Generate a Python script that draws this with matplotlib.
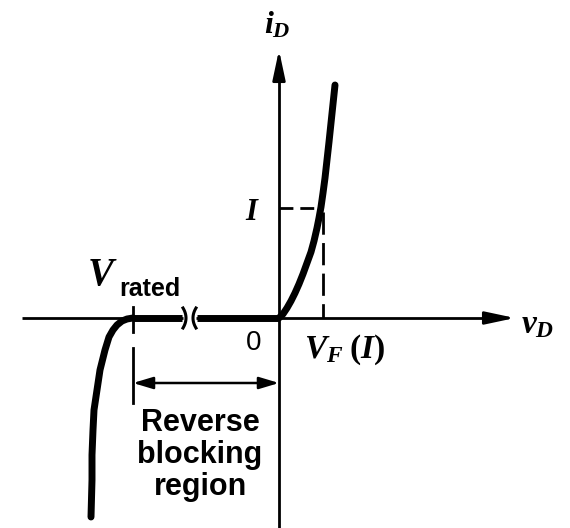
import matplotlib
import matplotlib.pyplot as plt
import numpy as np

matplotlib.use("Agg")

plt.rcParams["mathtext.fontset"] = "custom"
plt.rcParams["mathtext.it"] = "Liberation Serif:italic:bold"
plt.rcParams["mathtext.rm"] = "Liberation Serif:bold"
plt.rcParams["mathtext.bf"] = "Liberation Serif:bold"

# Diode i-v characteristic (sketch units, origin at v=0, i=0)
fwd_v = [0, 4, 8, 12, 16, 20, 24, 28, 32, 35, 38, 40, 42, 44, 46, 48, 50,
         52, 54, 56]
fwd_i = [0, 4, 10, 17, 25, 34, 44, 55, 66, 77, 90, 100, 111, 125, 140, 158,
         176, 195, 214, 233]

rev_v = [-146, -152, -157, -162, -166, -170, -174, -179, -182, -185, -186,
         -187, -187, -188]
rev_i = [0, -1, -3, -7, -12, -19, -32, -52, -72, -92, -112, -137, -162,
         -199]

V_RATED = -146
V_F = 44
I_LEVEL = 110

# broken section of the blocking region
BREAK_LEFT = -96
BREAK_RIGHT = -83

X_MIN, X_MAX = -257, 236
Y_MIN, Y_MAX = -210, 268

fig = plt.figure(figsize=(5.7, 5.28), dpi=100)
ax = fig.add_axes([0, 0, 1, 1])
ax.set_xlim(-279, 291)
ax.set_ylim(-210, 318)
ax.axis("off")

axis_kw = dict(color="black", lw=2.0, solid_capstyle="butt")
curve_kw = dict(color="black", lw=5.0, solid_capstyle="round",
                solid_joinstyle="round")
head = "-|>,head_length=1.5,head_width=0.32"

# horizontal axis, interrupted at the break marks
ax.plot([X_MIN, BREAK_LEFT], [0, 0], **axis_kw)
ax.plot([BREAK_RIGHT, X_MAX - 15], [0, 0], **axis_kw)
ax.annotate("", xy=(X_MAX, 0), xytext=(X_MAX - 30, 0),
            arrowprops=dict(arrowstyle=head, color="black", lw=2.0,
                            mutation_scale=12, shrinkA=0, shrinkB=0))

# vertical axis
ax.plot([0, 0], [Y_MIN, Y_MAX - 15], **axis_kw)
ax.annotate("", xy=(0, Y_MAX), xytext=(0, Y_MAX - 30),
            arrowprops=dict(arrowstyle=head, color="black", lw=2.0,
                            mutation_scale=12, shrinkA=0, shrinkB=0))

# characteristic: forward conduction, flat blocking part, reverse breakdown
ax.plot(fwd_v, fwd_i, **curve_kw)
ax.plot([V_RATED, BREAK_LEFT - 1], [0, 0], color="black", lw=5.0,
        solid_capstyle="butt")
ax.plot([BREAK_RIGHT + 1, 0], [0, 0], color="black", lw=5.0,
        solid_capstyle="butt")
ax.plot(rev_v, rev_i, **curve_kw)

# break marks ")(" on the axis
t = np.linspace(-1, 1, 20)
ax.plot(BREAK_LEFT + 3 * (1 - t ** 2), 10 * t, color="black", lw=2.2)
ax.plot(BREAK_RIGHT - 3 * (1 - t ** 2), 10 * t, color="black", lw=2.2)

# operating point guides
ax.plot([0, V_F - 3], [I_LEVEL, I_LEVEL], color="black", lw=2.0,
        dashes=(5, 2.5))
ax.plot([V_F, V_F], [I_LEVEL - 4, 0], color="black", lw=2.0,
        dashes=(8, 3))

# rated voltage marker and blocking-region span
ax.plot([V_RATED, V_RATED], [11, -14], color="black", lw=2.0)
ax.plot([V_RATED, V_RATED], [-30, -85], color="black", lw=2.0)
ax.annotate("", xy=(0, -65), xytext=(V_RATED, -65),
            arrowprops=dict(arrowstyle="<|-|>,head_length=1.0,head_width=0.3",
                            color="black", lw=1.8, mutation_scale=12,
                            shrinkA=0, shrinkB=0))

# labels
ax.text(-2, 293, r"$i_D$", fontsize=23, ha="center", va="center")
ax.text(242, -6, r"$v_D$", fontsize=24, ha="left", va="center")
ax.text(-26, 107, r"$I$", fontsize=22, ha="center", va="center")
ax.text(-25, -25, "0", fontsize=20, ha="center", va="center",
        family="Liberation Sans")
ax.text(25, -32, r"$V_F\;\mathrm{(}I\mathrm{)}$", fontsize=24,
        ha="left", va="center")
ax.text(-192, 44, r"$V$", fontsize=28, ha="left", va="center")
ax.text(-160, 29, "rated", fontsize=18, ha="left", va="center",
        family="Liberation Sans", fontweight="bold")
ax.text(-79, -137, "Reverse\nblocking\nregion", fontsize=22,
        ha="center", va="center", family="Liberation Sans",
        fontweight="bold", linespacing=1.1)

fig.savefig("out.png", dpi=100)
